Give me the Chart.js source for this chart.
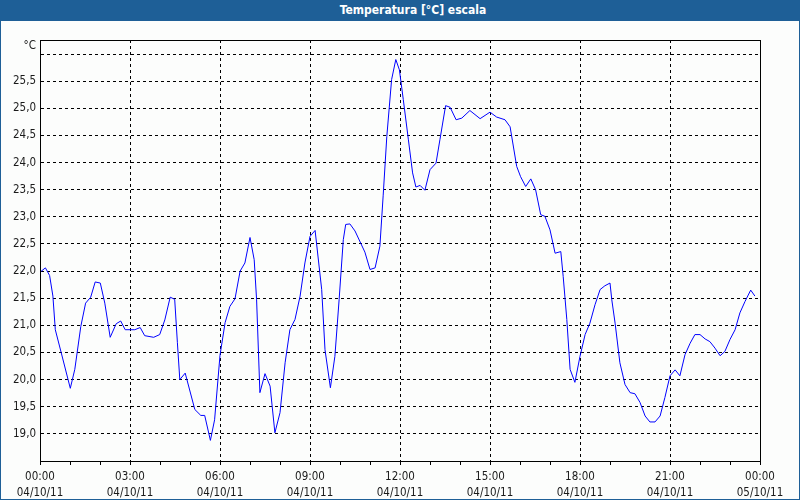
<!DOCTYPE html>
<html>
<head>
<meta charset="utf-8">
<script src="https://cdn.jsdelivr.net/npm/chart.js@4/dist/chart.umd.min.js"></script>
<style>
    html, body { margin: 0; padding: 0; }
    body { width: 800px; height: 500px; position: relative; background: #fcfdfc; overflow: hidden; }
    #frame { position: absolute; left: 0; top: 0; width: 800px; height: 500px; box-sizing: border-box; border: 1px solid #1e5f97; pointer-events: none; }
    #title { position: absolute; left: 0; top: 0; width: 800px; height: 21px; background: #1e5f97; color: #fff;
        font: bold 12px "DejaVu Sans Condensed", "Liberation Sans", sans-serif; line-height: 21px; text-align: center; padding-left: 26px; box-sizing: border-box; }
    #chart { position: absolute; left: 0; top: 0; }
</style>
</head>
<body>
<canvas id="chart" width="800" height="500"></canvas>
<div id="title">Temperatura [°C] escala</div>
<div id="frame"></div>
<script>
// Readings of 04/10/11 (hours since 00:00)
const hours = [0, 0.18, 0.32, 0.43, 0.51, 0.71, 1.01, 1.16, 1.36, 1.52, 1.69, 1.84, 2.01, 2.16, 2.34, 2.54, 2.69, 2.84,
    3.16, 3.34, 3.49, 3.79, 3.99, 4.16, 4.34, 4.49, 4.58, 4.66, 4.84, 5.16, 5.36, 5.49, 5.68, 5.82, 6.0, 6.17, 6.33,
    6.5, 6.67, 6.83, 7.0, 7.14, 7.22, 7.33, 7.5, 7.67, 7.83, 8.0, 8.17, 8.33, 8.5, 8.67, 8.83, 9.0, 9.17, 9.39, 9.5,
    9.68, 9.83, 9.97, 10.11, 10.19, 10.33, 10.5, 10.83, 11.0, 11.17, 11.33, 11.44, 11.56, 11.72, 11.86, 11.98, 12.11,
    12.28, 12.42, 12.53, 12.67, 12.83, 13.0, 13.2, 13.33, 13.52, 13.67, 13.87, 14.06, 14.33, 14.67, 15.0, 15.22, 15.5,
    15.67, 15.89, 16.02, 16.19, 16.36, 16.52, 16.69, 16.83, 17.0, 17.17, 17.36, 17.44, 17.56, 17.67, 17.83, 18.0,
    18.17, 18.33, 18.5, 18.67, 18.83, 19.0, 19.06, 19.17, 19.33, 19.5, 19.67, 19.83, 20.0, 20.17, 20.33, 20.5, 20.67,
    20.83, 21.0, 21.17, 21.33, 21.5, 21.67, 21.83, 22.0, 22.17, 22.33, 22.5, 22.67, 22.83, 23.0, 23.17, 23.33, 23.5,
    23.69, 23.83];
const temps = [21.98, 22.06, 21.92, 21.54, 20.92, 20.49, 19.84, 20.19, 20.98, 21.41, 21.52, 21.80, 21.78, 21.41, 20.78,
    21.03, 21.08, 20.92, 20.92, 20.96, 20.81, 20.78, 20.83, 21.1, 21.52, 21.48, 20.68, 20.0, 20.12, 19.45, 19.34, 19.34,
    18.88, 19.26, 20.45, 21.05, 21.35, 21.49, 22.0, 22.15, 22.62, 22.21, 21.47, 19.76, 20.11, 19.88, 19.02, 19.39,
    20.31, 20.92, 21.11, 21.54, 22.15, 22.64, 22.75, 21.66, 20.55, 19.85, 20.43, 21.47, 22.58, 22.86, 22.87, 22.74,
    22.35, 22.03, 22.06, 22.46, 23.4, 24.48, 25.53, 25.9, 25.71, 25.16, 24.42, 23.81, 23.55, 23.58, 23.49, 23.87, 23.99,
    24.42, 25.05, 25.02, 24.79, 24.82, 24.96, 24.81, 24.93, 24.84, 24.79, 24.66, 23.93, 23.74, 23.56, 23.70, 23.5, 23.04,
    23.01, 22.76, 22.33, 22.36, 21.9, 21.11, 20.19, 19.95, 20.43, 20.83, 21.04, 21.38, 21.66, 21.73, 21.78, 21.47,
    21.04, 20.31, 19.91, 19.76, 19.74, 19.58, 19.33, 19.22, 19.22, 19.33, 19.67, 20.07, 20.18, 20.07, 20.46, 20.67,
    20.83, 20.83, 20.75, 20.70, 20.58, 20.44, 20.52, 20.74, 20.92, 21.23, 21.44, 21.65, 21.54];

// Axis ticks
const yTicks = [19.0, 19.5, 20.0, 20.5, 21.0, 21.5, 22.0, 22.5, 23.0, 23.5, 24.0, 24.5, 25.0, 25.5, 26.0];
const xTicks = [0, 1, 2, 3, 4, 5, 6, 7, 8, 9, 10, 11, 12, 13, 14, 15, 16, 17, 18, 19, 20, 21, 22, 23, 24];
const xLabels = {
    0: ["00:00", "04/10/11"], 3: ["03:00", "04/10/11"], 6: ["06:00", "04/10/11"], 9: ["09:00", "04/10/11"],
    12: ["12:00", "04/10/11"], 15: ["15:00", "04/10/11"], 18: ["18:00", "04/10/11"], 21: ["21:00", "04/10/11"],
    24: ["00:00", "05/10/11"]
};

const FONT = "'DejaVu Sans Condensed', 'Liberation Sans', sans-serif";

// Solid frame round the plot area and the unit label
const framePlugin = {
    id: "framePlugin",
    afterDraw(chart) {
        const { ctx, chartArea: a } = chart;
        ctx.save();
        ctx.strokeStyle = "#000";
        ctx.lineWidth = 1;
        ctx.strokeRect(Math.round(a.left) + 0.5, Math.round(a.top) + 0.5, Math.round(a.right - a.left), Math.round(a.bottom - a.top));
        ctx.fillStyle = "#1a1a1a";
        ctx.font = "11.5px " + FONT;
        ctx.textAlign = "right";
        ctx.textBaseline = "middle";
        ctx.fillText("°C", 36, 46);
        ctx.restore();
    }
};

new Chart(document.getElementById("chart"), {
    type: "line",
    data: {
        datasets: [{
            data: hours.map((h, i) => ({ x: h, y: temps[i] })),
            borderColor: "#0000ff",
            borderWidth: 1,
            pointRadius: 0,
            tension: 0,
            fill: false
        }]
    },
    options: {
        responsive: false,
        animation: false,
        layout: { padding: { top: 40, right: 40, left: 0, bottom: 0 } },
        plugins: { legend: { display: false }, tooltip: { enabled: false }, title: { display: false } },
        scales: {
            x: {
                type: "linear",
                min: 0,
                max: 24,
                afterBuildTicks: (axis) => { axis.ticks = xTicks.map((v) => ({ value: v })); },
                afterFit: (axis) => { axis.height = 39; },
                ticks: {
                    autoSkip: false,
                    maxRotation: 0,
                    padding: 4,
                    color: "#1a1a1a",
                    font: { family: FONT, size: 11.5, lineHeight: 1.4 },
                    callback: (v) => xLabels[v] || ""
                },
                grid: {
                    color: (c) => (c.tick && c.tick.value % 3 === 0 && c.tick.value > 0 && c.tick.value < 24) ? "#000" : "rgba(0,0,0,0)",
                    tickColor: "#000",
                    tickLength: 4,
                    lineWidth: 1
                },
                border: { display: true, color: "#000", width: 1, dash: [3, 3] }
            },
            y: {
                type: "linear",
                min: 18.5,
                max: 26.26,
                afterBuildTicks: (axis) => { axis.ticks = yTicks.map((v) => ({ value: v })); },
                afterFit: (axis) => { axis.width = 40; },
                ticks: {
                    padding: 4,
                    color: "#1a1a1a",
                    font: { family: FONT, size: 11.5 },
                    callback: (v) => v >= 26 ? "" : v.toFixed(1).replace(".", ",")
                },
                grid: { color: "#000", drawTicks: false, lineWidth: 1 },
                border: { display: true, color: "#000", width: 1, dash: [3, 3] }
            }
        }
    },
    plugins: [framePlugin]
});
</script>
</body>
</html>
